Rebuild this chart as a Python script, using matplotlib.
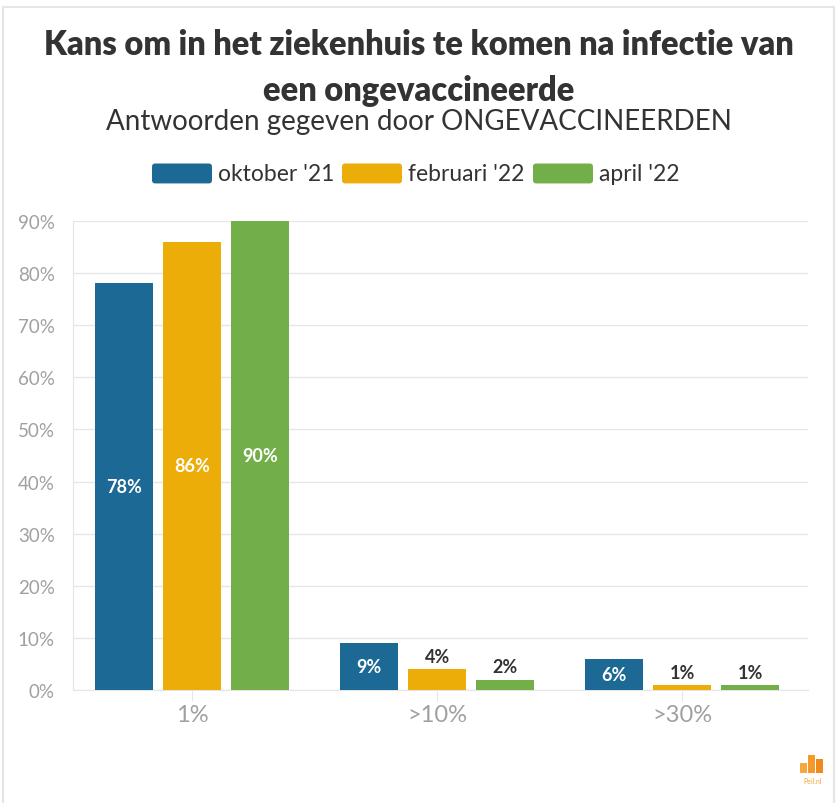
import numpy as np
import matplotlib
matplotlib.use("Agg")
import matplotlib.pyplot as plt
from matplotlib.patches import FancyBboxPatch, Rectangle

plt.rcParams['font.family'] = ['Lato', 'DejaVu Sans']

categories = ["1%", ">10%", ">30%"]
series_names = ["oktober '21", "februari '22", "april '22"]
oktober = [78, 9, 6]
februari = [86, 4, 1]
april = [90, 2, 1]
yticks = [0, 10, 20, 30, 40, 50, 60, 70, 80, 90]

colors = ["#1d6996", "#edad08", "#73af48"]
series = [oktober, februari, april]

fig = plt.figure(figsize=(8.37, 8.04), dpi=100)
fig.patch.set_facecolor("white")
# light frame around the chart
fig.add_artist(Rectangle((0.004, -0.01), 0.992, 1.0, transform=fig.transFigure,
                         fill=False, edgecolor="#e6e6e6", linewidth=1.5))

ax = fig.add_axes([0.0872, 0.1405, 0.878, 0.5835])
x = np.arange(len(categories))
width = 0.237
step = 0.278
for i, (vals, col) in enumerate(zip(series, colors)):
    pos = x + (i - 1) * step
    bars = ax.bar(pos, vals, width=width, color=col, zorder=3)
    for b, v in zip(bars, vals):
        cx = b.get_x() + b.get_width() / 2
        if v >= 5:
            ax.text(cx, v / 2, f"{v}%", ha="center", va="center", color="white",
                    fontsize=13, fontweight="bold", zorder=4)
        else:
            ax.text(cx, v + 0.8, f"{v}%", ha="center", va="bottom", color="#333333",
                    fontsize=13, fontweight="bold", zorder=4)

ax.set_xlim(-0.487, 2.513)
ax.set_ylim(0, 90)
ax.set_yticks(yticks)
ax.set_yticklabels([f"{t}%" for t in yticks])
ax.set_xticks(x)
ax.set_xticklabels(categories)
ax.grid(axis="y", color="#e6e6e6", linewidth=1, zorder=0)
for s in ["top", "right"]:
    ax.spines[s].set_visible(False)
ax.spines["left"].set_color("#e6e6e6")
ax.spines["bottom"].set_color("#e6e6e6")
ax.tick_params(axis="y", length=0, labelsize=13.5, labelcolor="#a0a0a0", pad=13)
ax.tick_params(axis="x", length=8, color="#e6e6e6", labelsize=17, labelcolor="#a0a0a0", pad=2)

# titles
fig.text(0.5, 0.944, "Kans om in het ziekenhuis te komen na infectie van", ha="center",
         va="center", fontsize=23.5, fontweight="heavy", color="#333333")
fig.text(0.5, 0.887, "een ongevaccineerde", ha="center", va="center", fontsize=23.5,
         fontweight="heavy", color="#333333")
fig.text(0.5, 0.848, "Antwoorden gegeven door ONGEVACCINEERDEN", ha="center", va="center",
         fontsize=20, color="#333333")

# legend
leg_y = 0.783
leg_items = [(152, series_names[0]), (342, series_names[1]), (533, series_names[2])]
for (px, name), col in zip(leg_items, colors):
    fig.add_artist(FancyBboxPatch((px / 837, leg_y - 0.0124), 60 / 837, 0.0248,
                                  boxstyle="round,pad=0,rounding_size=0.004",
                                  transform=fig.transFigure, facecolor=col, edgecolor="none"))
    fig.text((px + 66) / 837, leg_y, name, ha="left", va="center", fontsize=16.5, color="#333333")

# logo
for lx, ly, lh, c in [(800, 764, 10, "#f5a742"), (808, 756, 18, "#f39a2b"), (816, 760, 14, "#f08a1e")]:
    fig.add_artist(Rectangle((lx / 837, (804 - ly - lh) / 804), 7 / 837, lh / 804,
                             transform=fig.transFigure, facecolor=c, edgecolor="none"))
fig.text(813 / 837, 1 - 782 / 804, "Peil.nl", ha="center", va="center", fontsize=5, color="#f5a742")

fig.savefig("out.png", dpi=100)
